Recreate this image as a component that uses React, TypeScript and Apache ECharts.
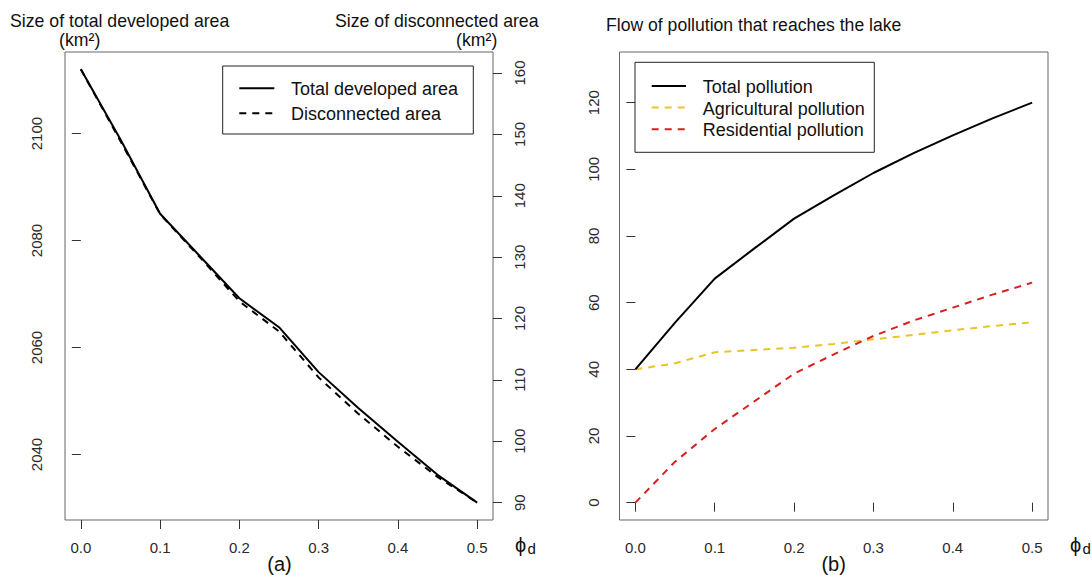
import React, { useEffect, useRef } from "react";
import * as echarts from "echarts";

// ---------- data ----------
const phiD = [0, 0.05, 0.1, 0.15, 0.2, 0.25, 0.3, 0.35, 0.4, 0.45, 0.5];
const totalDevelopedArea = [2112.0, 2098.9, 2085.0, 2077.1, 2069.2, 2063.8, 2055.4, 2048.7, 2042.4, 2036.2, 2031.0];
const disconnectedArea = [160.6, 148.9, 137.0, 130.0, 122.8, 117.9, 110.4, 104.5, 99.1, 94.2, 90.0];
const totalPollution = [40.0, 54.0, 67.2, 76.3, 85.2, 92.2, 98.9, 104.8, 110.2, 115.3, 120.0];
const agriculturalPollution = [40.0, 41.8, 45.1, 45.8, 46.5, 47.6, 49.0, 50.3, 51.7, 53.0, 54.1];
const residentialPollution = [0.0, 12.3, 22.1, 30.4, 38.7, 44.5, 50.0, 54.6, 58.5, 62.4, 66.0];

const xTicks = [0, 0.1, 0.2, 0.3, 0.4, 0.5];
const developedTicks = [2040, 2060, 2080, 2100];
const disconnectedTicks = [90, 100, 110, 120, 130, 140, 150, 160];
const pollutionTicks = [0, 20, 40, 60, 80, 100, 120];
const pollutionLimits = [0, 130];

// ---------- helpers ----------
const FONT = "'Liberation Sans', Arial, sans-serif";
const rRange = (lo: number, hi: number) => {
  const d = (hi - lo) * 0.04;
  return [lo - d, hi + d];
};
const pairs = (ys: number[]) => phiD.map((x, i) => [x, ys[i]]);

const xR = rRange(Math.min(...phiD), Math.max(...phiD));
const devR = rRange(Math.min(...totalDevelopedArea), Math.max(...totalDevelopedArea));
const disR = rRange(Math.min(...disconnectedArea), Math.max(...disconnectedArea));
const polR = rRange(pollutionLimits[0], pollutionLimits[1]);

const YELLOW = "#E8C525";
const RED = "#DD1E1E";
const DASH = [7, 6];

const tickStyle = { color: "#333", width: 1 };
const labelBase = { fontSize: 15, color: "#2a2a2a", fontFamily: FONT };

function xAxis(gridIndex: number) {
  return {
    type: "value",
    gridIndex,
    min: xR[0],
    max: xR[1],
    axisLine: { show: false },
    splitLine: { show: false },
    axisTick: { show: true, length: 9, customValues: xTicks, lineStyle: tickStyle },
    axisLabel: { ...labelBase, customValues: xTicks, margin: 20, formatter: (v: number) => v.toFixed(1) },
  };
}

function yAxis(gridIndex: number, pos: string, range: number[], ticks: number[], margin: number) {
  return {
    type: "value",
    gridIndex,
    position: pos,
    min: range[0],
    max: range[1],
    axisLine: { show: false },
    splitLine: { show: false },
    axisTick: { show: true, length: 9, customValues: ticks, lineStyle: tickStyle },
    axisLabel: { ...labelBase, customValues: ticks, rotate: 90, margin, formatter: (v: number) => String(v) },
  };
}

function txt(text: string, x: number, y: number, size: number, align = "left") {
  return {
    type: "text",
    x,
    y,
    silent: true,
    style: {
      text,
      fontSize: size,
      lineHeight: size,
      fontFamily: FONT,
      fill: "#111",
      align,
      verticalAlign: "middle",
    },
  };
}

function legLine(x1: number, x2: number, y: number, color: string, dashed: boolean) {
  return {
    type: "line",
    silent: true,
    shape: { x1, y1: y, x2, y2: y },
    style: { stroke: color, lineWidth: 2, lineDash: dashed ? DASH : null },
  };
}

const graphics = [
  txt("Size of total developed area", 10, 21, 17.7),
  txt("(km²)", 79.7, 39.6, 17.7, "center"),
  txt("Size of disconnected area", 335, 21, 17.7),
  txt("(km²)", 476.7, 39.6, 17.7, "center"),
  txt("Flow of pollution that reaches the lake", 606, 24.6, 17.6),
  txt("(a)", 279.5, 563.5, 20, "center"),
  txt("(b)", 833.6, 563.5, 20, "center"),
  txt("ϕ", 515, 545, 20),
  txt("d", 527.5, 548.5, 15),
  txt("ϕ", 1070, 545, 20),
  txt("d", 1082.5, 548.5, 15),
  // left legend
  {
    type: "rect",
    silent: true,
    shape: { x: 222.7, y: 66, width: 250.6, height: 68 },
    style: { fill: "#fff", stroke: "#222", lineWidth: 1 },
    z: 10,
  },
  { ...legLine(239.3, 274.3, 88.3, "#000", false), z: 11 },
  { ...legLine(239.3, 274.3, 113.3, "#000", true), z: 11 },
  { ...txt("Total developed area", 291, 89, 18), z: 11 },
  { ...txt("Disconnected area", 291, 114, 18), z: 11 },
  // right legend
  {
    type: "rect",
    silent: true,
    shape: { x: 635, y: 62.3, width: 239.3, height: 90 },
    style: { fill: "#fff", stroke: "#222", lineWidth: 1 },
    z: 10,
  },
  { ...legLine(651.7, 686, 86, "#000", false), z: 11 },
  { ...legLine(651.7, 686, 107.5, YELLOW, true), z: 11 },
  { ...legLine(651.7, 686, 129.3, RED, true), z: 11 },
  { ...txt("Total pollution", 702.7, 87, 18), z: 11 },
  { ...txt("Agricultural pollution", 702.7, 108.5, 18), z: 11 },
  { ...txt("Residential pollution", 702.7, 130.3, 18), z: 11 },
];

function lineSeries(name: string, xi: number, yi: number, ys: number[], color: string, dashed: boolean) {
  return {
    type: "line",
    name,
    xAxisIndex: xi,
    yAxisIndex: yi,
    data: pairs(ys),
    symbol: "none",
    silent: true,
    lineStyle: { color, width: 2, type: dashed ? DASH : "solid" },
    emphasis: { disabled: true },
  };
}

const option = {
  animation: false,
  backgroundColor: "#fff",
  textStyle: { fontFamily: FONT },
  grid: [
    { left: 65, top: 52, width: 428, height: 468, show: true, borderColor: "#666", borderWidth: 1, backgroundColor: "transparent" },
    { left: 619.5, top: 52, width: 428.5, height: 468, show: true, borderColor: "#666", borderWidth: 1, backgroundColor: "transparent" },
  ],
  xAxis: [xAxis(0), xAxis(1)],
  yAxis: [
    yAxis(0, "left", devR, developedTicks, 21),
    yAxis(0, "right", disR, disconnectedTicks, 19),
    yAxis(1, "left", polR, pollutionTicks, 19),
  ],
  series: [
    lineSeries("Total developed area", 0, 0, totalDevelopedArea, "#000", false),
    lineSeries("Disconnected area", 0, 1, disconnectedArea, "#000", true),
    lineSeries("Agricultural pollution", 1, 2, agriculturalPollution, YELLOW, true),
    lineSeries("Residential pollution", 1, 2, residentialPollution, RED, true),
    lineSeries("Total pollution", 1, 2, totalPollution, "#000", false),
  ],
  graphic: graphics,
};

export default function App() {
  const ref = useRef<HTMLDivElement>(null);
  useEffect(() => {
    const chart = echarts.init(ref.current!, null, { renderer: "svg" });
    chart.setOption(option as any);
    return () => chart.dispose();
  }, []);
  return (
    <div
      ref={ref}
      style={{ position: "fixed", left: 0, top: 0, width: 1092, height: 575, background: "#fff" }}
    />
  );
}
